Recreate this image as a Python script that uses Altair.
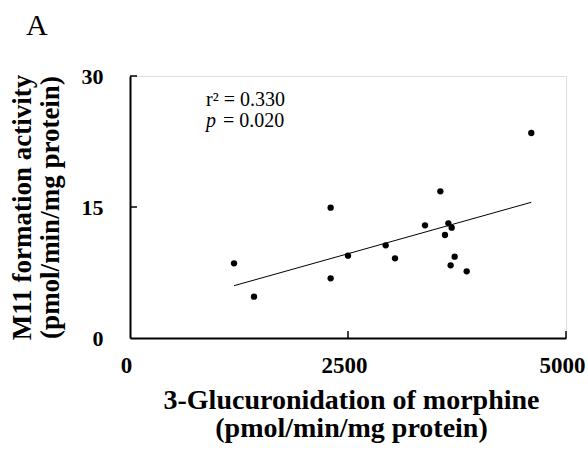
import altair as alt
import pandas as pd

# Data
x_vals = [1193, 1422, 2301, 2301, 2500, 2932, 3039, 3383, 3559, 3612, 3651, 3689, 3677, 3723, 3861, 4602]
y_vals = [8.55, 4.73, 14.92, 6.83, 9.43, 10.61, 9.12, 12.90, 16.79, 11.79, 13.13, 12.63, 8.32, 9.31, 7.63, 23.47]
fit_x = [1193, 4602]
fit_y = [5.99, 15.54]
x_ticks = [0, 2500, 5000]
y_ticks = [0, 15, 30]
x_title = ["3-Glucuronidation of morphine", "(pmol/min/mg protein)"]
y_title = ["M11 formation activity", "(pmol/min/mg protein)"]

FONT = "Liberation Serif"

pts = pd.DataFrame({"x": x_vals, "y": y_vals})
fit = pd.DataFrame({"x": fit_x, "y": fit_y})
xt = pd.DataFrame({"v": [t for t in x_ticks if t > 0]})
yt = pd.DataFrame({"v": [t for t in y_ticks if t > 0]})

xscale = alt.Scale(domain=[0, 5000], nice=False, zero=True)
yscale = alt.Scale(domain=[0, 30], nice=False, zero=True)

xaxis = alt.Axis(values=x_ticks, title=x_title, ticks=False, grid=False, format="d",
                 domainColor="black", domainWidth=2,
                 labelFont=FONT, labelFontWeight="bold", labelFontSize=23, labelColor="black",
                 labelPadding=16, labelOffset=-4, labelFlush=False, labelOverlap=False,
                 titleFont=FONT, titleFontWeight="bold", titleFontSize=28, titleColor="black",
                 titleLineHeight=28, titleBaseline="top", titleY=48, titleX=221, titleAlign="center")
yaxis = alt.Axis(values=y_ticks, title=y_title, ticks=False, grid=False, format="d",
                 domainColor="black", domainWidth=2,
                 labelFont=FONT, labelFontWeight="bold", labelFontSize=22, labelColor="black",
                 labelPadding=27, labelFlush=False, labelOverlap=False,
                 titleFont=FONT, titleFontWeight="bold", titleFontSize=27, titleColor="black",
                 titleLineHeight=28, titleBaseline="top", titleX=-121, titleY=131, titleAlign="center",
                 titleAngle=270)

base_pts = alt.Chart(pts).mark_circle(size=40, color="black", opacity=1).encode(
    x=alt.X("x:Q", scale=xscale, axis=xaxis),
    y=alt.Y("y:Q", scale=yscale, axis=yaxis),
)

line = alt.Chart(fit).mark_line(color="black", strokeWidth=1).encode(
    x=alt.X("x:Q", scale=xscale),
    y=alt.Y("y:Q", scale=yscale),
)

xticks_layer = alt.Chart(xt).mark_rule(color="black", strokeWidth=1.5).encode(
    x=alt.X("v:Q", scale=xscale), y=alt.value(262), y2=alt.value(255))
yticks_layer = alt.Chart(yt).mark_rule(color="black", strokeWidth=1.5).encode(
    y=alt.Y("v:Q", scale=yscale), x=alt.value(0), x2=alt.value(7))

ann1 = alt.Chart(pd.DataFrame({"t": ["r\u00b2 = 0.330"]})).mark_text(
    font=FONT, fontSize=20, align="left", baseline="alphabetic", color="black").encode(
    text="t:N", x=alt.value(76), y=alt.value(30))
ann_p = alt.Chart(pd.DataFrame({"t": ["p"]})).mark_text(
    font=FONT, fontSize=20, fontStyle="italic", align="left", baseline="alphabetic", color="black").encode(
    text="t:N", x=alt.value(76), y=alt.value(51))
ann2 = alt.Chart(pd.DataFrame({"t": ["= 0.020"]})).mark_text(
    font=FONT, fontSize=20, align="left", baseline="alphabetic", color="black").encode(
    text="t:N", x=alt.value(93), y=alt.value(51))
panel = alt.Chart(pd.DataFrame({"t": ["A"]})).mark_text(
    font=FONT, fontSize=30, align="left", baseline="alphabetic", color="black").encode(
    text="t:N", x=alt.value(-104), y=alt.value(-41))

chart = alt.layer(line, base_pts, xticks_layer, yticks_layer, ann1, ann_p, ann2, panel).properties(
    width=436, height=262,
    autosize=alt.AutoSizeParams(type="none"),
    padding={"left": 130, "top": 76, "right": 22, "bottom": 113},
).configure_view(stroke=None).configure(background="white")

chart.save("out.html", embed_options={"renderer": "svg", "actions": False})
